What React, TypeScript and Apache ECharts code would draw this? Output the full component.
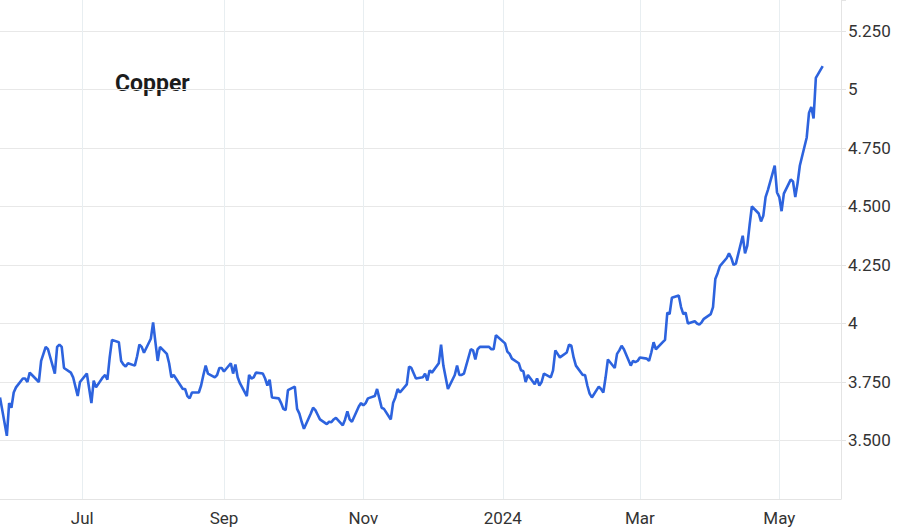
import React, { useEffect, useRef } from 'react';
import * as echarts from 'echarts';

// ---- Data ----
const START_DATE = '2023-05-26';
const HOLIDAYS = ['2023-07-04', '2023-11-23', '2023-12-25', '2024-01-01'];
const X_MIN = '2023-05-26';
const X_MAX = '2024-05-28';
const X_TICK_DATES = ['2023-07-01', '2023-09-01', '2023-11-01', '2024-01-01', '2024-03-01', '2024-05-01'];
const X_TICK_LABELS = ['Jul', 'Sep', 'Nov', '2024', 'Mar', 'May'];
const Y_MIN = 3.25;
const Y_MAX = 5.3824;
const Y_STEP = 0.25;
const TITLE = 'Copper';

// late May 2023 – mid Aug 2023
const pricesSummer2023 = [
  3.684, 3.52, 3.66, 3.64, 3.705, 3.727, 3.765, 3.765, 3.75, 3.79,
  3.78, 3.75, 3.84, 3.87, 3.9, 3.89, 3.786, 3.9, 3.91, 3.9,
  3.81, 3.79, 3.77, 3.73, 3.69, 3.75, 3.786, 3.66, 3.756, 3.727,
  3.77, 3.78, 3.76, 3.855, 3.93, 3.92, 3.84, 3.825, 3.816, 3.83,
  3.82, 3.86, 3.91, 3.9, 3.875, 3.935, 4.005, 3.92, 3.84, 3.9,
  3.87, 3.83, 3.77, 3.78, 3.765,
];
// mid Aug 2023 – late Oct 2023
const pricesAutumn2023 = [
  3.72, 3.72, 3.69, 3.68, 3.705, 3.705, 3.735, 3.78, 3.82, 3.786,
  3.77, 3.78, 3.81, 3.81, 3.795, 3.83, 3.786, 3.825, 3.77, 3.745,
  3.69, 3.78, 3.765, 3.77, 3.79, 3.786, 3.765, 3.735, 3.76, 3.684,
  3.68, 3.66, 3.635, 3.63, 3.715, 3.73, 3.635, 3.615, 3.58, 3.55,
  3.615, 3.64, 3.63, 3.61, 3.59, 3.57, 3.58, 3.578, 3.59, 3.597,
  3.565, 3.59, 3.625, 3.59, 3.58,
];
// late Oct 2023 – mid Feb 2024
const pricesWinter = [
  3.645, 3.66, 3.65, 3.66, 3.68, 3.69, 3.72, 3.68, 3.64, 3.635,
  3.59, 3.66, 3.684, 3.72, 3.705, 3.74, 3.816, 3.81, 3.765, 3.77,
  3.786, 3.756, 3.8, 3.79, 3.83, 3.91, 3.82, 3.77, 3.72, 3.78,
  3.82, 3.78, 3.78, 3.786, 3.89, 3.885, 3.846, 3.89, 3.9, 3.9,
  3.89, 3.89, 3.95, 3.915, 3.88, 3.87, 3.85, 3.83, 3.8, 3.796,
  3.75, 3.78, 3.74, 3.765, 3.735, 3.75, 3.786, 3.77, 3.8, 3.885,
  3.87, 3.855, 3.876, 3.91, 3.905, 3.855, 3.82, 3.78, 3.78, 3.735,
  3.7, 3.684, 3.73, 3.72,
];
// mid Feb 2024 – May 2024
const pricesSpring2024 = [
  3.705, 3.77, 3.846, 3.81, 3.87, 3.885, 3.905, 3.89, 3.82, 3.84,
  3.835, 3.84, 3.855, 3.85, 3.84, 3.876, 3.92, 3.89, 3.92, 3.93,
  4.047, 4.04, 4.11, 4.12, 4.07, 4.04, 4.047, 4.0, 4.01, 4.0,
  3.995, 4.005, 4.02, 4.04, 4.07, 4.19, 4.215, 4.245, 4.28, 4.3,
  4.28, 4.25, 4.256, 4.375, 4.3, 4.333, 4.42, 4.5, 4.47, 4.436,
  4.46, 4.54, 4.57, 4.675, 4.56, 4.54, 4.48, 4.555, 4.615, 4.607,
  4.54, 4.6, 4.675, 4.795, 4.9, 4.925, 4.876, 5.05, 5.1,
];

const FONT = 'Roboto, "Liberation Sans", Arial, sans-serif';

function toTs(iso: string): number {
  return new Date(iso + 'T00:00:00').getTime();
}

function isoOf(d: Date): string {
  const m = String(d.getMonth() + 1).padStart(2, '0');
  const day = String(d.getDate()).padStart(2, '0');
  return `${d.getFullYear()}-${m}-${day}`;
}

function tradingDays(start: string, count: number, holidays: string[]): number[] {
  const out: number[] = [];
  const d = new Date(start + 'T00:00:00');
  while (out.length < count) {
    const dow = d.getDay();
    if (dow !== 0 && dow !== 6 && holidays.indexOf(isoOf(d)) < 0) out.push(d.getTime());
    d.setDate(d.getDate() + 1);
  }
  return out;
}

export default function App() {
  const ref = useRef<HTMLDivElement>(null);

  useEffect(() => {
    if (!ref.current) return;
    const chart = echarts.init(ref.current, undefined, { renderer: 'svg' });

    const values = [...pricesSummer2023, ...pricesAutumn2023, ...pricesWinter, ...pricesSpring2024];
    const dates = tradingDays(START_DATE, values.length, HOLIDAYS);
    const seriesData = values.map((v, i) => [dates[i], v]);
    const xTicks = X_TICK_DATES.map(toTs);

    const labelFor = (v: number) => {
      let best = -1;
      let bestD = Infinity;
      xTicks.forEach((t, i) => {
        const dd = Math.abs(t - v);
        if (dd < bestD) { bestD = dd; best = i; }
      });
      return bestD < 86400000 * 2 ? X_TICK_LABELS[best] : '';
    };

    chart.setOption({
      animation: false,
      backgroundColor: '#ffffff',
      grid: { left: 0, right: 59, top: 0, bottom: 30, containLabel: false },
      xAxis: {
        type: 'value',
        min: toTs(X_MIN),
        max: toTs(X_MAX),
        axisLine: { show: true, lineStyle: { color: '#e4e4e4', width: 1 } },
        axisTick: { show: false, customValues: xTicks },
        axisLabel: {
          customValues: xTicks,
          formatter: (v: number) => labelFor(v),
          color: '#333333',
          fontSize: 17,
          fontFamily: FONT,
          margin: 10,
        },
        splitLine: { show: true, lineStyle: { color: '#e8eef1', width: 1 } },
      },
      yAxis: {
        type: 'value',
        position: 'right',
        min: Y_MIN,
        max: Y_MAX,
        interval: Y_STEP,
        axisLine: { show: true, lineStyle: { color: '#e4e4e4', width: 1 } },
        axisTick: { show: true, length: 5, lineStyle: { color: '#e4e4e4' } },
        axisLabel: {
          color: '#333333',
          fontSize: 17,
          fontFamily: FONT,
          margin: 7,
          showMinLabel: false,
          formatter: (v: number) => {
            if (Math.abs(v - Y_MIN) < 1e-9) return '';
            const q = v / Y_STEP;
            if (Math.abs(q - Math.round(q)) > 1e-6) return '';
            if (Math.abs(v - Math.round(v)) < 1e-9) return String(Math.round(v));
            return v.toFixed(3);
          },
        },
        splitLine: { show: true, showMaxLine: false, lineStyle: { color: '#e8e8e8', width: 1 } },
      },
      graphic: [
        {
          type: 'text',
          x: 115,
          y: 83,
          style: {
            text: TITLE,
            fontSize: 23,
            fontWeight: 'bold',
            fontFamily: FONT,
            fill: '#1c1c1c',
            align: 'left',
            verticalAlign: 'middle',
          },
        },
      ],
      series: [
        {
          type: 'line',
          data: seriesData,
          showSymbol: false,
          symbol: 'none',
          lineStyle: { color: '#2d63de', width: 2.6 },
          z: 5,
        },
      ],
    });

    return () => chart.dispose();
  }, []);

  return (
    <div
      ref={ref}
      style={{ position: 'absolute', left: 0, top: 0, width: 900, height: 529 }}
    />
  );
}
